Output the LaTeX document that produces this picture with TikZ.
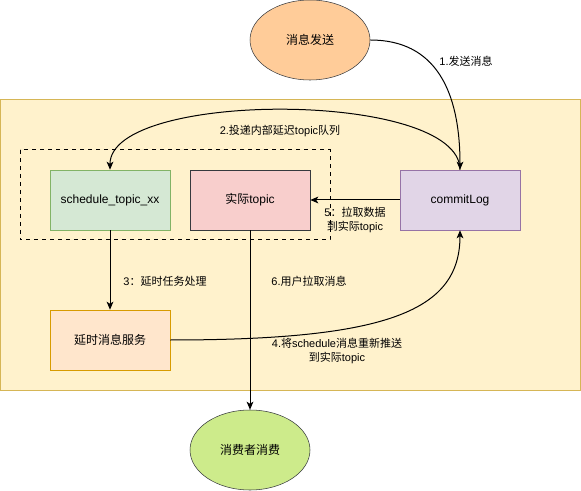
\documentclass[tikz,border=0pt]{standalone}
\usepackage{fontspec}
\setmainfont{Liberation Sans}
\newfontfamily\cjk{Noto Sans CJK SC}
\usetikzlibrary{arrows.meta,shapes.geometric}
\definecolor{bgfill}{HTML}{FFF2CC}
\definecolor{bgline}{HTML}{D6B656}
\definecolor{grfill}{HTML}{D5E8D4}
\definecolor{grline}{HTML}{82B366}
\definecolor{rdfill}{HTML}{F8CECC}
\definecolor{dkline}{HTML}{36393D}
\definecolor{pufill}{HTML}{E1D5E7}
\definecolor{puline}{HTML}{9673A6}
\definecolor{orfill}{HTML}{FFE6CC}
\definecolor{orline}{HTML}{D79B00}
\definecolor{pkfill}{HTML}{FFCC99}
\definecolor{lgfill}{HTML}{CDEB8B}
\tikzset{
  px/.style={x=0.75pt,y=-0.75pt},
  box/.style={rectangle,draw,minimum width=90pt,minimum height=45pt,inner sep=0pt,font=\fontsize{9}{11}\selectfont},
  oval/.style={ellipse,draw,minimum width=90pt,minimum height=60pt,inner sep=0pt,font=\fontsize{9}{11}\selectfont},
  conn/.style={draw,line width=0.75pt,-{Stealth[length=6pt,width=5pt,inset=1.5pt]}},
  lbl/.style={font=\fontsize{8.25}{10.5}\selectfont,align=center,inner sep=0pt}
}
\begin{document}
\begin{tikzpicture}[px]
\useasboundingbox (0,0) rectangle (581,491);
\fill[white] (0,0) rectangle (581,491);
\draw[bgline,fill=bgfill,line width=0.75pt] (0,100) rectangle (580,390);
\draw[dashed,line width=0.75pt] (20,150) rectangle (330,240);
\node[oval,fill=pkfill,draw=dkline] (send) at (310,40) {\cjk 消息发送};
\node[box,fill=grfill,draw=grline] (sched) at (110,200) {schedule\_topic\_xx};
\node[box,fill=rdfill,draw=dkline] (real) at (250,200) {{\cjk 实际}topic};
\node[box,fill=pufill,draw=puline] (commit) at (460,200) {commitLog};
\node[box,fill=orfill,draw=orline] (delay) at (110,340) {\cjk 延时消息服务};
\node[oval,fill=lgfill,draw=dkline] (cons) at (250,450) {\cjk 消费者消费};
\draw[conn] (send.east) .. controls (435,40) and (460,90) .. (commit.north);
\draw[conn] (commit.north) .. controls (460,90) and (110,90) .. (sched.north);
\draw[conn] (sched.south) -- (delay.north);
\draw[conn] (delay.east) .. controls (390,340) and (460,310) .. (commit.south);
\draw[conn] (commit.west) -- (real.east);
\draw[conn] (real.south) -- (cons.north);
\node[lbl] (l1) at (466,61) {1.{\cjk 发送消息}};
\node[lbl] (l2) at (280,131) {2.{\cjk 投递内部延迟}topic{\cjk 队列}};
\node[lbl] (l3) at (165,281) {3{\cjk ：延时任务处理}};
\node[lbl] (l4) at (337,351) {4.{\cjk 将}schedule{\cjk 消息重新推送}\\{\cjk 到实际}topic};
\node[lbl] (l5) at (355,220) {5{\cjk ：拉取数据}\\{\cjk 到实际}topic};
\node[lbl] (l6) at (309,281) {6.{\cjk 用户拉取消息}};
\end{tikzpicture}
\end{document}
